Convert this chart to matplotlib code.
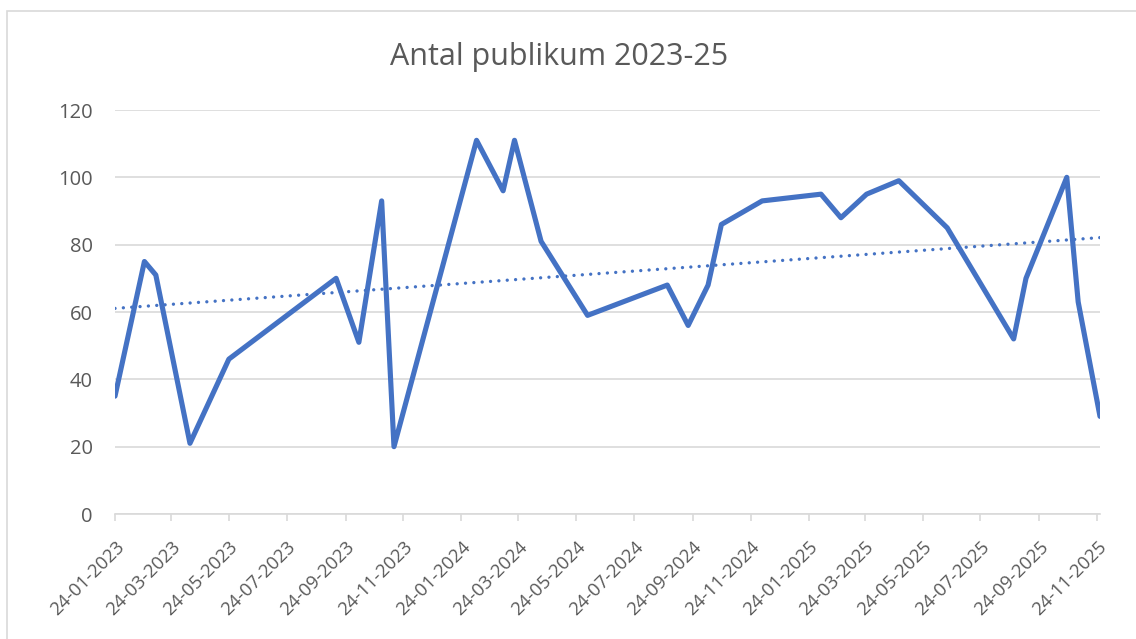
import numpy as np
import pandas as pd
import matplotlib
matplotlib.use('Agg')
import matplotlib.pyplot as plt
import matplotlib.dates as mdates
from matplotlib.patches import Rectangle
from matplotlib.transforms import ScaledTranslation

# Data.
dates = ['2023-01-24', '2023-02-24', '2023-03-08', '2023-04-13', '2023-05-24',
         '2023-09-14', '2023-10-08', '2023-11-01', '2023-11-14', '2024-02-09',
         '2024-03-08', '2024-03-20', '2024-04-17', '2024-06-05', '2024-08-28',
         '2024-09-19', '2024-10-10', '2024-10-24', '2024-12-06', '2025-02-06',
         '2025-02-27', '2025-03-26', '2025-04-29', '2025-06-19', '2025-08-28',
         '2025-09-10', '2025-10-23', '2025-11-04', '2025-11-27']
audience = [35, 75, 71, 21, 46, 70, 51, 93, 20, 111, 96, 111, 81, 59, 68,
            56, 68, 86, 93, 95, 88, 95, 99, 85, 52, 70, 100, 63, 29]
title = 'Antal publikum 2023-25'
y_ticks = [0, 20, 40, 60, 80, 100, 120]

blue = '#4472C4'
grey_text = '#595959'
grey_line = '#D9D9D9'

plt.rcParams['font.family'] = ['Open Sans', 'DejaVu Sans']

dt = pd.to_datetime(dates)
x = mdates.date2num(dt)

fig = plt.figure(figsize=(11.36, 6.39), dpi=100)
ax = fig.add_axes([115 / 1136, 1 - 514 / 639, (1100 - 115) / 1136, (514 - 110) / 639])

# Outer chart border (cut off on the right and bottom, like the screenshot).
fig.add_artist(Rectangle((7 / 1136, -0.2), 1.2, 0.2 + (639 - 11) / 639,
                         transform=fig.transFigure, fill=False,
                         edgecolor=grey_line, lw=1.2))

ax.plot(x, audience, color=blue, lw=3.7, solid_joinstyle='round',
        solid_capstyle='round', zorder=3)

# Linear trendline.
coef = np.polyfit(x, audience, 1)
trend_x = np.array([x[0], x[-1]])
ax.plot(trend_x, np.polyval(coef, trend_x), color=blue, lw=2.4,
        linestyle=(0, (0.01, 2.5)), dash_capstyle='round', zorder=2)

ax.set_xlim(x[0], x[-1])
ax.set_ylim(0, 120)
ax.set_yticks(y_ticks)
ax.grid(axis='y', color=grey_line, lw=1.2)
ax.set_axisbelow(True)

# Date ticks every two months, labels drawn as rotated text below the axis.
tick_dates = pd.date_range('2023-01-24', '2025-11-24', freq=pd.DateOffset(months=2))
tick_x = mdates.date2num(tick_dates)
ax.set_xticks(tick_x)
ax.set_xticklabels([])
shift = ScaledTranslation(0, -24 / 100, fig.dpi_scale_trans)
for xt, d in zip(tick_x, tick_dates):
    ax.text(xt, 0, d.strftime('%d-%m-%Y'), transform=ax.get_xaxis_transform() + shift,
            rotation=45, ha='right', va='top', rotation_mode='anchor',
            fontsize=13.3, color=grey_text, clip_on=False)

for side in ['top', 'right', 'left']:
    ax.spines[side].set_visible(False)
ax.spines['bottom'].set_color(grey_line)
ax.spines['bottom'].set_linewidth(1.2)

ax.tick_params(axis='y', length=0, pad=16, labelsize=14.5, labelcolor=grey_text)
ax.tick_params(axis='x', length=5, width=1.2, color=grey_line)

fig.text(559 / 1136, 1 - 57 / 639, title, ha='center', va='center',
         fontsize=22, color=grey_text)

fig.savefig('out.png', dpi=100)
